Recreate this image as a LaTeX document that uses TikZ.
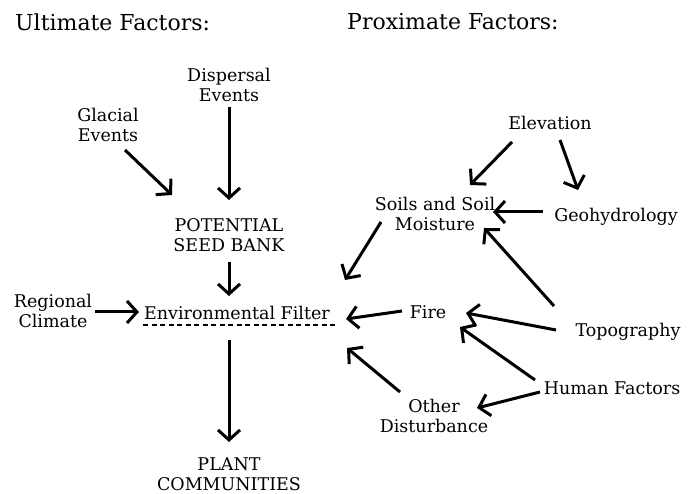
\documentclass[tikz,border=0pt]{standalone}
\usepackage{fontspec}
\setmainfont{DejaVu Serif}
\usetikzlibrary{arrows.meta}
\tikzset{
  lbl/.style={inner sep=0pt, align=center, font=\fontsize{17.5}{20.5}\selectfont},
  hdr/.style={inner sep=0pt, anchor=west, font=\fontsize{22}{26}\selectfont},
  arr/.style={line width=3pt, -{Straight Barb[length=10pt,width=22pt]}},
  dsh/.style={line width=2.2pt, dash pattern=on 5pt off 3.5pt}
}
\begin{document}
\begin{tikzpicture}[x=1pt,y=1pt]
\useasboundingbox (0,0) rectangle (693,494);
\node[hdr] (ult) at (15,472) {Ultimate Factors:};
\node[hdr] (prox) at (347,472) {Proximate Factors:};
\node[lbl] (disp) at (229,409) {Dispersal\\Events};
\node[lbl] (glac) at (108,369) {Glacial\\Events};
\node[lbl] (pot) at (229,259) {POTENTIAL\\SEED BANK};
\node[lbl] (reg) at (53,183) {Regional\\Climate};
\node[lbl] (env) at (237,181) {Environmental Filter};
\node[lbl] (plant) at (229,20) {PLANT\\COMMUNITIES};
\node[lbl] (elev) at (550,371) {Elevation};
\node[lbl] (soils) at (435,280) {Soils and Soil\\Moisture};
\node[lbl] (geo) at (616,277) {Geohydrology};
\node[lbl] (fire) at (428,182) {Fire};
\node[lbl] (topo) at (628,162) {Topography};
\node[lbl] (human) at (612,106) {Human Factors};
\node[lbl] (other) at (434,78) {Other\\Disturbance};
% left chain
\draw[arr] ([shift={(17,-25)}]glac.center) -- ([shift={(-57,40)}]pot.center);
\draw[arr] ([shift={(0,-22)}]disp.center) -- ([shift={(0,35)}]pot.center);
\draw[arr] ([shift={(0,-27)}]pot.center) -- ([shift={(-8,17)}]env.center);
\draw[arr] ([shift={(42,-1)}]reg.center) -- ([shift={(-98,1)}]env.center);
\draw[arr] ([shift={(-8,-27)}]env.center) -- ([shift={(0,32)}]plant.center);
\draw[dsh] ([shift={(-94,-12)}]env.center) -- ([shift={(100,-12)}]env.center);
% proximate
\draw[arr] ([shift={(-38,-19)}]elev.center) -- ([shift={(35,29)}]soils.center);
\draw[arr] ([shift={(10,-17)}]elev.center) -- ([shift={(-38,27)}]geo.center);
\draw[arr] ([shift={(-73,5)}]geo.center) -- ([shift={(58,2)}]soils.center);
\draw[arr] ([shift={(-74,26)}]topo.center) -- ([shift={(49,-14)}]soils.center);
\draw[arr] ([shift={(-54,-8)}]soils.center) -- ([shift={(108,33)}]env.center);
\draw[arr] ([shift={(-26,1)}]fire.center) -- ([shift={(109,-6)}]env.center);
\draw[arr] ([shift={(-34,24)}]other.center) -- ([shift={(110,-35)}]env.center);
\draw[arr] ([shift={(-72,2)}]topo.center) -- ([shift={(38,-1)}]fire.center);
\draw[arr] ([shift={(-77,8)}]human.center) -- ([shift={(32,-15)}]fire.center);
\draw[arr] ([shift={(-72,-4)}]human.center) -- ([shift={(43,8)}]other.center);
\end{tikzpicture}
\end{document}
